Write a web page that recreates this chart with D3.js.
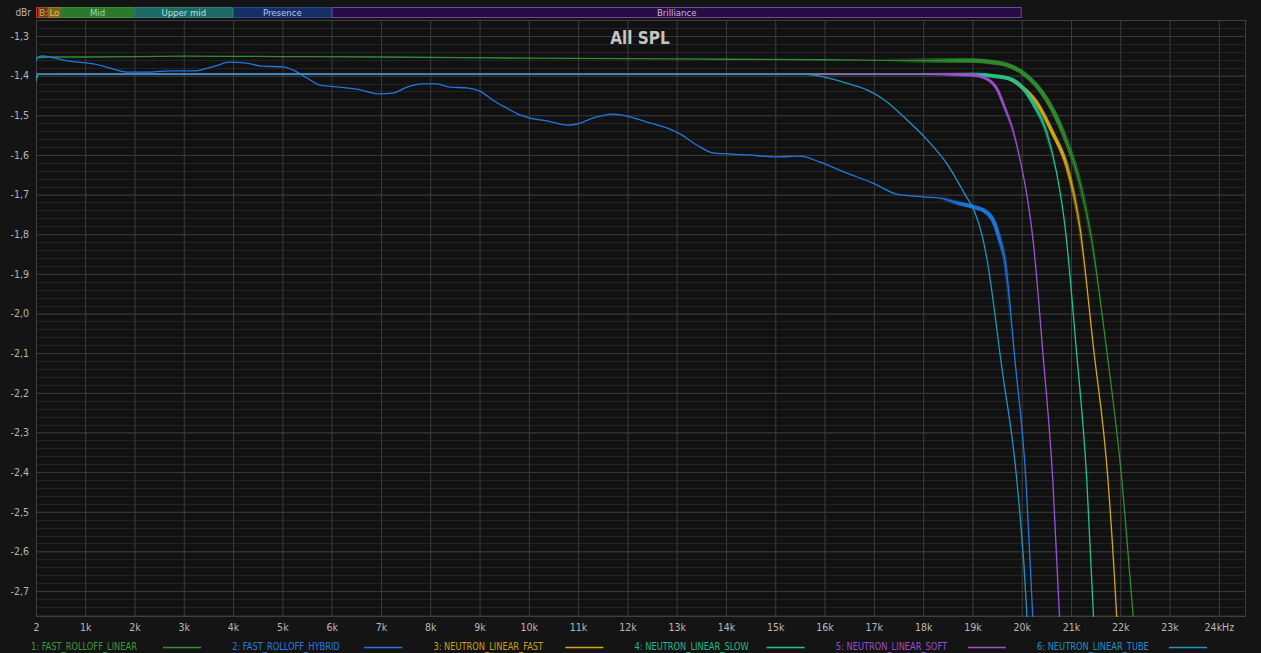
<!DOCTYPE html>
<html>
<head>
<meta charset="utf-8">
<script src="https://cdn.jsdelivr.net/npm/d3@7"></script>
<style>
  html, body { margin: 0; padding: 0; background: #141414; }
  svg { display: block; }
  text { font-family: "Liberation Sans Narrow", "DejaVu Sans Condensed", "Roboto", sans-serif; }
</style>
</head>
<body>
<svg id="chart" width="1261" height="653"></svg>
<script>
// ---- Data -------------------------------------------------------------
// Frequency response traces: [frequency in Hz, level in dBr]
const seriesNames = [
  "1: FAST_ROLLOFF_LINEAR",
  "2: FAST_ROLLOFF_HYBRID",
  "3: NEUTRON_LINEAR_FAST",
  "4: NEUTRON_LINEAR_SLOW",
  "5: NEUTRON_LINEAR_SOFT",
  "6: NEUTRON_LINEAR_TUBE"
];

const fastRolloffLinear = [
  [2, -1.355], [300, -1.353], [1000, -1.353], [3000, -1.351], [5000, -1.352],
  [7000, -1.353], [10000, -1.356], [13000, -1.358], [16000, -1.360],
  [18000, -1.362], [19000, -1.362], [19400, -1.366], [19700, -1.373],
  [20020, -1.393], [20300, -1.425], [20510, -1.461], [20840, -1.544],
  [21180, -1.670], [21420, -1.814], [21700, -2.070], [22030, -2.418],
  [22260, -2.760], [22400, -2.950]
];

const fastRolloffHybrid = [
  [2, -1.363], [41, -1.353], [142, -1.3505], [284, -1.353], [629, -1.363],
  [1035, -1.368], [1197, -1.371], [1501, -1.381], [1846, -1.391], [2313, -1.391],
  [2719, -1.388], [3226, -1.388], [3429, -1.383], [3632, -1.376], [3936, -1.366],
  [4240, -1.368], [4585, -1.376], [5011, -1.378], [5255, -1.388], [5498, -1.406],
  [5762, -1.424], [6168, -1.429], [6512, -1.434], [6979, -1.446], [7243, -1.444],
  [7527, -1.429], [7852, -1.421], [8136, -1.421], [8399, -1.429], [8744, -1.431],
  [9008, -1.439], [9272, -1.462], [9556, -1.482], [9819, -1.499], [10022, -1.507],
  [10367, -1.514], [10773, -1.525], [10976, -1.522], [11300, -1.507], [11706, -1.497],
  [11990, -1.502], [12396, -1.517], [12802, -1.532], [13066, -1.547], [13410, -1.575],
  [13735, -1.595], [14425, -1.600], [15034, -1.605], [15500, -1.603], [15906, -1.618],
  [16454, -1.646], [16981, -1.671], [17468, -1.699], [17996, -1.706], [18340, -1.709],
  [18685, -1.721], [19010, -1.731], [19213, -1.739], [19416, -1.764], [19558, -1.815],
  [19659, -1.865], [19862, -2.117], [20085, -2.420], [20227, -2.773], [20300, -2.950]
];

const neutronLinearFast = [
  [2, -1.410], [40, -1.397], [1000, -1.396], [5000, -1.396], [10000, -1.396],
  [15000, -1.396], [18000, -1.396], [19010, -1.397], [19400, -1.401],
  [19700, -1.406], [19960, -1.424], [20310, -1.469], [20630, -1.545],
  [20920, -1.630], [21180, -1.782], [21450, -2.080], [21750, -2.420],
  [21930, -2.773], [22000, -2.950]
];

const neutronLinearSlow = [
  [2, -1.410], [40, -1.397], [1000, -1.396], [5000, -1.396], [10000, -1.396],
  [15000, -1.396], [18000, -1.396], [19010, -1.397], [19500, -1.402],
  [19820, -1.411], [20230, -1.469], [20510, -1.545], [20710, -1.646],
  [20880, -1.782], [21100, -2.080], [21320, -2.420], [21460, -2.773],
  [21520, -2.950]
];

const neutronLinearSoft = [
  [2, -1.393], [40, -1.396], [1000, -1.396], [5000, -1.396], [10000, -1.396],
  [15000, -1.396], [18000, -1.396], [18700, -1.397], [19010, -1.399],
  [19290, -1.408], [19500, -1.434], [19660, -1.482], [19820, -1.537],
  [19960, -1.608], [20110, -1.706], [20230, -1.815], [20430, -2.100],
  [20630, -2.420], [20770, -2.773], [20830, -2.950]
];

const neutronLinearTube = [
  [2, -1.416], [40, -1.397], [1000, -1.396], [5000, -1.396], [10000, -1.396],
  [15000, -1.396], [15640, -1.397], [15970, -1.403], [16450, -1.419],
  [16860, -1.436], [17200, -1.460], [17700, -1.515], [18080, -1.562],
  [18480, -1.622], [18850, -1.700], [19050, -1.745], [19190, -1.800],
  [19290, -1.860], [19600, -2.140], [19900, -2.420], [20110, -2.773],
  [20170, -2.950]
];

const seriesValues = [
  fastRolloffLinear, fastRolloffHybrid, neutronLinearFast,
  neutronLinearSlow, neutronLinearSoft, neutronLinearTube
];

// Axis ticks
const xTickValues = [2, 1000, 2000, 3000, 4000, 5000, 6000, 7000, 8000, 9000, 10000,
  11000, 12000, 13000, 14000, 15000, 16000, 17000, 18000, 19000, 20000, 21000,
  22000, 23000, 24000];
const xTickLabels = ["2", "1k", "2k", "3k", "4k", "5k", "6k", "7k", "8k", "9k", "10k",
  "11k", "12k", "13k", "14k", "15k", "16k", "17k", "18k", "19k", "20k", "21k",
  "22k", "23k", "24kHz"];
const yTickValues = [-1.3, -1.4, -1.5, -1.6, -1.7, -1.8, -1.9, -2.0, -2.1, -2.2,
  -2.3, -2.4, -2.5, -2.6, -2.7];

// Frequency band strip along the top
const bandNames = ["", "B:", "Lo", "Mid", "Upper mid", "Presence", "Brilliance"];
const bandRanges = [[2, 60], [60, 250], [250, 500], [500, 2000], [2000, 4000],
  [4000, 6000], [6000, 20000]];

// ---- Styling ----------------------------------------------------------
const seriesColors = ["#2f8f2f", "#1f78e2", "#d6a816", "#1fc48e", "#a24fd6", "#1d95c2"];
const legendTextColors = ["#3a9a3a", "#2a7ae0", "#c9a020", "#22b888", "#9a4cd0", "#2190c0"];
// Frequency windows where a trace is drawn heavier: [from Hz, to Hz, width]
const heavySpans = [
  [17200, 21600, 4.6], [18300, 19800, 4.2], [19000, 21300, 3.8],
  [18400, 20700, 3.8], [18000, 19950, 3.0], null
];
const bandFill = ["#3a1414", "#5a3a18", "#7c6418", "#2b7a2b", "#1d6a64", "#162f68", "#260b46"];
const bandStroke = ["#c03a2a", "#8a5a26", "#9a7a2a", "#3d8d3d", "#2f7f78", "#2c4682", "#6c4a9c"];
const bandText = ["#e0a040", "#e0a848", "#e8c060", "#a8d8a8", "#b8e0da", "#b8c8ea", "#c8b8e0"];

const W = 1261, H = 653;
const M = { left: 36, right: 1246, top: 20, bottom: 617 };

const svg = d3.select("#chart");
const defs = svg.append("defs");
svg.append("rect").attr("width", W).attr("height", H).attr("fill", "#141414");

const x = d3.scaleLinear().domain([2, 24550]).range([M.left, M.right]);
const y = d3.scaleLinear().domain([-1.2597, -2.7655]).range([M.top, M.bottom]);

// Plot background
svg.append("rect")
  .attr("x", M.left).attr("y", M.top)
  .attr("width", M.right - M.left).attr("height", M.bottom - M.top)
  .attr("fill", "#111111");

// Minor horizontal grid (every 0.02 dB)
const minorY = d3.range(-1.26, -2.78, -0.02).filter(v => y(v) > M.top && y(v) < M.bottom);
svg.append("g").selectAll("line").data(minorY).join("line")
  .attr("x1", M.left).attr("x2", M.right)
  .attr("y1", d => Math.round(y(d)) + 0.5).attr("y2", d => Math.round(y(d)) + 0.5)
  .attr("stroke", "#232323").attr("stroke-width", 1);

// Major grid via axes
const gridX = d3.axisBottom(x).tickValues(xTickValues.slice(1))
  .tickSize(-(M.bottom - M.top)).tickFormat("");
svg.append("g").attr("transform", `translate(0,${M.bottom})`).call(gridX)
  .call(g => g.select(".domain").remove())
  .call(g => g.selectAll("line").attr("stroke", "#3c3c3c"));

const gridY = d3.axisLeft(y).tickValues(yTickValues)
  .tickSize(-(M.right - M.left)).tickFormat("");
svg.append("g").attr("transform", `translate(${M.left},0)`).call(gridY)
  .call(g => g.select(".domain").remove())
  .call(g => g.selectAll("line").attr("stroke", "#3a3a3a"));

// Plot frame
svg.append("rect")
  .attr("x", M.left + 0.5).attr("y", M.top + 0.5)
  .attr("width", M.right - M.left - 1).attr("height", M.bottom - M.top - 1)
  .attr("fill", "none").attr("stroke", "#3e3e3e");

// Axis labels
const labelFont = "'Liberation Sans Narrow', 'DejaVu Sans Condensed', sans-serif";
const xAxis = d3.axisBottom(x).tickValues(xTickValues).tickSize(0)
  .tickFormat((d, i) => xTickLabels[i]);
svg.append("g").attr("transform", `translate(0,${M.bottom + 4})`).call(xAxis)
  .call(g => g.select(".domain").remove())
  .call(g => g.selectAll("text").attr("fill", "#b8b8b8").attr("font-size", 10.5)
    .attr("font-family", labelFont));

const yAxis = d3.axisLeft(y).tickValues(yTickValues).tickSize(0)
  .tickFormat(d => d3.format(".1f")(d).replace("\u2212", "-").replace(".", ","));
svg.append("g").attr("transform", `translate(${M.left - 4},0)`).call(yAxis)
  .call(g => g.select(".domain").remove())
  .call(g => g.selectAll("text").attr("fill", "#b8b8b8").attr("font-size", 10.5)
    .attr("font-family", labelFont));

// Unit label
svg.append("text").attr("x", 31).attr("y", 15.5).attr("text-anchor", "end")
  .attr("fill", "#b8b8b8").attr("font-size", 10).text("dBr");

// Band strip
const bands = svg.append("g");
bandRanges.forEach((r, i) => {
  const x0 = x(r[0]), x1 = x(r[1]);
  bands.append("rect")
    .attr("x", x0 + 0.5).attr("y", 7.5)
    .attr("width", Math.max(1, x1 - x0 - 1)).attr("height", 10)
    .attr("fill", bandFill[i]).attr("stroke", bandStroke[i]).attr("stroke-width", 1);
  if (bandNames[i]) {
    bands.append("text")
      .attr("x", (x0 + x1) / 2).attr("y", 16)
      .attr("text-anchor", "middle").attr("font-size", 9.5)
      .attr("fill", bandText[i]).text(bandNames[i]);
  }
});

// Title
svg.append("text").attr("x", 640).attr("y", 44).attr("text-anchor", "middle")
  .attr("font-family", "'Open Sans', 'Noto Sans', sans-serif")
  .attr("font-weight", "bold").attr("font-size", 17).attr("fill", "#c4c4c4")
  .text("All SPL");

// Traces
defs.append("clipPath").attr("id", "plotClip").append("rect")
  .attr("x", M.left).attr("y", M.top)
  .attr("width", M.right - M.left).attr("height", M.bottom - M.top);

const line = d3.line().x(d => x(d[0])).y(d => y(d[1])).curve(d3.curveMonotoneX);
const traces = svg.append("g").attr("clip-path", "url(#plotClip)");

seriesValues.forEach((vals, i) => {
  const hs = heavySpans[i];
  if (hs) {
    // horizontal fade mask so the heavier stroke swells in and out smoothly
    const gx0 = x(hs[0]), gx1 = x(hs[1]);
    const grad = defs.append("linearGradient").attr("id", `heavyGrad${i}`)
      .attr("gradientUnits", "userSpaceOnUse")
      .attr("x1", gx0).attr("x2", gx1).attr("y1", 0).attr("y2", 0);
    [[0, 0], [0.35, 1], [0.8, 1], [1, 0]].forEach(s =>
      grad.append("stop").attr("offset", s[0]).attr("stop-color", "#fff").attr("stop-opacity", s[1]));
    defs.append("mask").attr("id", `heavyMask${i}`)
      .attr("maskUnits", "userSpaceOnUse")
      .attr("x", 0).attr("y", 0).attr("width", W).attr("height", H)
      .append("rect").attr("x", gx0).attr("y", 0)
      .attr("width", gx1 - gx0).attr("height", H)
      .attr("fill", `url(#heavyGrad${i})`);
    traces.append("path").datum(vals)
      .attr("d", line).attr("fill", "none")
      .attr("stroke", seriesColors[i]).attr("stroke-width", hs[2])
      .attr("stroke-opacity", 0.9)
      .attr("mask", `url(#heavyMask${i})`);
  }
  traces.append("path").datum(vals)
    .attr("d", line).attr("fill", "none")
    .attr("stroke", seriesColors[i]).attr("stroke-width", 1.3)
    .attr("stroke-linejoin", "round");
});

// Legend
const legend = svg.append("g");
seriesNames.forEach((name, i) => {
  const x0 = 31 + i * 201.2;
  const t = legend.append("text").attr("x", x0).attr("y", 649.5)
    .attr("font-size", 10).attr("fill", legendTextColors[i]).text(name);
  const len = t.node().getComputedTextLength();
  t.attr("textLength", len * 0.92).attr("lengthAdjust", "spacingAndGlyphs");
  legend.append("line")
    .attr("x1", x0 + 132).attr("x2", x0 + 170)
    .attr("y1", 647.5).attr("y2", 647.5)
    .attr("stroke", seriesColors[i]).attr("stroke-width", 1.3);
});
</script>
</body>
</html>
